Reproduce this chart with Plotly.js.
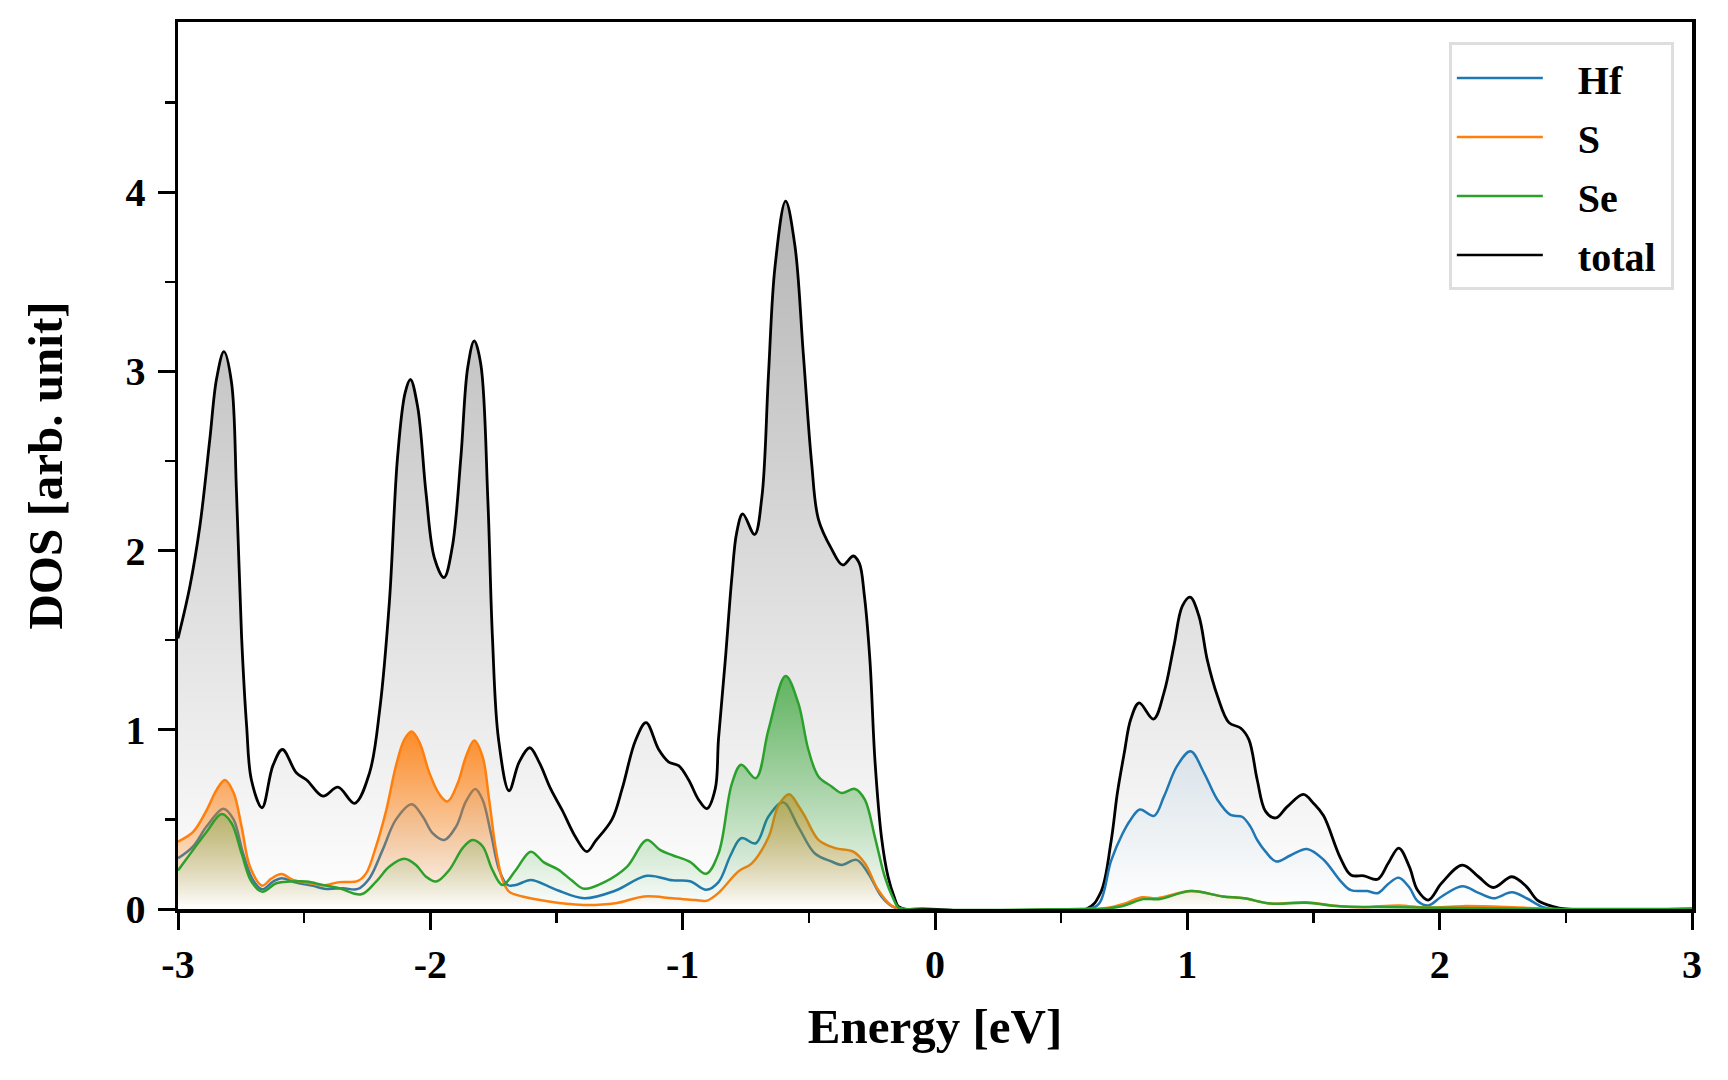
<!DOCTYPE html>
<html>
<head>
<meta charset="utf-8">
<script src="https://cdn.plot.ly/plotly-3.0.1.min.js"></script>
<style>
  html, body { margin: 0; padding: 0; background: #ffffff; }
  #chart { width: 1728px; height: 1080px; }
</style>
</head>
<body>
<div id="chart"></div>
<script>
// ---------------- data ----------------
const eTotal = [-3.00,-2.953,-2.913,-2.874,-2.847,-2.818,-2.788,-2.768,-2.748,-2.728,-2.709,-2.667,-2.624,-2.586,-2.531,-2.49,-2.426,-2.366,-2.30,-2.241,-2.20,-2.162,-2.13,-2.10,-2.079,-2.05,-2.017,-1.984,-1.946,-1.913,-1.879,-1.852,-1.826,-1.80,-1.772,-1.754,-1.73,-1.688,-1.648,-1.606,-1.569,-1.523,-1.477,-1.424,-1.38,-1.345,-1.28,-1.24,-1.187,-1.145,-1.095,-1.055,-1.016,-0.976,-0.937,-0.904,-0.871,-0.858,-0.831,-0.805,-0.786,-0.762,-0.715,-0.686,-0.66,-0.634,-0.592,-0.555,-0.522,-0.489,-0.462,-0.41,-0.366,-0.324,-0.30,-0.28,-0.258,-0.238,-0.212,-0.186,-0.16,-0.146,-0.12,-0.05,0.60,0.656,0.697,0.723,0.75,0.776,0.809,0.866,0.908,0.947,0.98,1.011,1.046,1.079,1.119,1.165,1.211,1.244,1.277,1.31,1.35,1.395,1.46,1.50,1.54,1.605,1.648,1.70,1.754,1.796,1.838,1.88,1.912,1.955,2.008,2.09,2.154,2.213,2.286,2.344,2.387,2.45,2.50,3.00];
const dosTotal = [1.51,1.80,2.14,2.62,2.96,3.11,2.94,2.32,1.52,1.02,0.72,0.565,0.80,0.89,0.76,0.72,0.63,0.68,0.59,0.76,1.12,1.72,2.52,2.88,2.955,2.80,2.32,1.96,1.85,2.02,2.52,3.02,3.17,3.04,2.28,1.52,0.95,0.66,0.82,0.90,0.82,0.67,0.55,0.40,0.32,0.38,0.50,0.67,0.94,1.04,0.89,0.82,0.80,0.72,0.61,0.56,0.67,0.95,1.39,1.85,2.10,2.205,2.09,2.30,2.98,3.585,3.95,3.70,3.10,2.49,2.175,2.01,1.92,1.97,1.93,1.75,1.39,0.83,0.40,0.18,0.06,0.015,0,0,0,0.09,0.37,0.65,0.87,1.06,1.15,1.06,1.21,1.47,1.69,1.74,1.635,1.39,1.19,1.04,1.01,0.945,0.72,0.545,0.508,0.57,0.64,0.59,0.52,0.29,0.19,0.185,0.166,0.255,0.34,0.235,0.106,0.05,0.145,0.245,0.18,0.12,0.18,0.125,0.05,0.013,0,0];

const eHf = [-3.00,-2.94,-2.887,-2.82,-2.78,-2.742,-2.703,-2.667,-2.623,-2.59,-2.531,-2.465,-2.412,-2.347,-2.287,-2.241,-2.189,-2.136,-2.074,-2.03,-1.991,-1.945,-1.898,-1.859,-1.822,-1.793,-1.76,-1.727,-1.694,-1.661,-1.602,-1.53,-1.493,-1.39,-1.266,-1.142,-1.04,-0.971,-0.907,-0.858,-0.81,-0.768,-0.71,-0.66,-0.601,-0.542,-0.476,-0.41,-0.37,-0.311,-0.265,-0.212,-0.17,-0.13,0.60,0.65,0.698,0.743,0.776,0.812,0.868,0.908,0.96,1.013,1.066,1.119,1.171,1.217,1.25,1.277,1.31,1.352,1.41,1.474,1.54,1.605,1.648,1.714,1.754,1.796,1.838,1.88,1.912,1.955,2.008,2.09,2.154,2.213,2.286,2.344,2.41,2.45,3.00];
const dosHf = [0.283,0.35,0.46,0.56,0.50,0.31,0.162,0.11,0.153,0.172,0.147,0.129,0.112,0.116,0.112,0.172,0.33,0.50,0.585,0.516,0.423,0.385,0.46,0.60,0.67,0.61,0.423,0.218,0.134,0.134,0.162,0.125,0.103,0.06,0.103,0.185,0.16,0.155,0.107,0.15,0.30,0.395,0.367,0.516,0.595,0.46,0.31,0.265,0.246,0.274,0.20,0.07,0.015,0,0,0.03,0.27,0.42,0.50,0.555,0.52,0.63,0.80,0.88,0.76,0.61,0.525,0.515,0.46,0.385,0.32,0.265,0.30,0.335,0.275,0.16,0.105,0.10,0.088,0.14,0.175,0.12,0.045,0.02,0.07,0.127,0.09,0.06,0.093,0.06,0.01,0,0];

const eS = [-3.00,-2.94,-2.887,-2.847,-2.814,-2.78,-2.748,-2.715,-2.667,-2.63,-2.59,-2.544,-2.478,-2.426,-2.36,-2.287,-2.254,-2.215,-2.175,-2.136,-2.103,-2.074,-2.043,-2.004,-1.964,-1.932,-1.892,-1.859,-1.826,-1.793,-1.767,-1.74,-1.714,-1.688,-1.635,-1.53,-1.45,-1.379,-1.266,-1.153,-1.04,-0.95,-0.903,-0.858,-0.779,-0.726,-0.66,-0.621,-0.578,-0.541,-0.515,-0.462,-0.396,-0.324,-0.278,-0.225,-0.173,-0.13,0.60,0.68,0.75,0.82,0.88,1.015,1.14,1.225,1.33,1.47,1.605,1.70,1.838,1.95,2.09,2.286,2.45,3.00];
const dosS = [0.376,0.43,0.55,0.665,0.72,0.65,0.46,0.237,0.13,0.17,0.195,0.162,0.144,0.133,0.15,0.157,0.20,0.35,0.55,0.80,0.945,0.99,0.93,0.76,0.64,0.60,0.70,0.85,0.94,0.85,0.61,0.33,0.163,0.097,0.07,0.042,0.028,0.022,0.032,0.07,0.06,0.05,0.047,0.09,0.21,0.255,0.40,0.575,0.64,0.575,0.516,0.386,0.34,0.32,0.255,0.106,0.02,0,0,0.005,0.03,0.065,0.06,0.10,0.07,0.06,0.03,0.038,0.015,0.01,0.02,0.008,0.016,0.01,0,0];

const eSe = [-3.00,-2.94,-2.887,-2.827,-2.788,-2.748,-2.709,-2.667,-2.61,-2.557,-2.49,-2.426,-2.36,-2.274,-2.215,-2.162,-2.103,-2.057,-2.017,-1.977,-1.925,-1.872,-1.833,-1.793,-1.754,-1.714,-1.661,-1.602,-1.55,-1.493,-1.44,-1.39,-1.31,-1.221,-1.142,-1.09,-1.04,-0.971,-0.907,-0.858,-0.805,-0.768,-0.71,-0.66,-0.592,-0.542,-0.502,-0.462,-0.41,-0.37,-0.317,-0.278,-0.238,-0.199,-0.166,-0.146,-0.12,0.60,0.656,0.74,0.825,0.887,1.015,1.14,1.225,1.33,1.47,1.605,1.838,2.09,2.45,3.00];
const dosSe = [0.215,0.33,0.43,0.53,0.48,0.31,0.153,0.097,0.144,0.153,0.153,0.134,0.116,0.082,0.153,0.237,0.28,0.246,0.18,0.153,0.218,0.34,0.385,0.35,0.218,0.134,0.218,0.32,0.26,0.22,0.16,0.113,0.15,0.235,0.385,0.33,0.30,0.263,0.197,0.31,0.70,0.805,0.73,1.0,1.30,1.15,0.89,0.74,0.684,0.647,0.67,0.61,0.40,0.18,0.06,0.01,0,0,0,0.015,0.055,0.055,0.10,0.07,0.06,0.03,0.035,0.015,0.01,0.005,0,0];

const seriesNames = ['Hf', 'S', 'Se', 'total'];
const xTickVals = [-3,-2,-1,0,1,2,3];
const xTickText = ['-3','-2','-1','0','1','2','3'];
const yTickVals = [0,1,2,3,4];
const yTickText = ['0','1','2','3','4'];

// ---------------- styling ----------------
const FONT = 'Liberation Serif, Times New Roman, serif';
const COLORS = {Hf: '#1f77b4', S: '#ff7f0e', Se: '#2ca02c', total: '#000000'};

function gradTrace(x, y, name, rgb, stop, aTop, lw) {
  return {
    x: x, y: y, name: name, type: 'scatter', mode: 'lines',
    line: {color: COLORS[name], width: lw, shape: 'spline', smoothing: 1},
    fill: 'tozeroy',
    fillgradient: {
      type: 'vertical', start: 0, stop: stop,
      colorscale: [[0, 'rgba(' + rgb + ',0)'], [1, 'rgba(' + rgb + ',' + aTop + ')']]
    },
    showlegend: false, hoverinfo: 'skip'
  };
}

// legend-only entries (plain line samples, no data drawn)
function legendTrace(name, rank) {
  return {
    x: [null], y: [null], type: 'scatter', mode: 'lines',
    name: '\u2002\u2005' + name + '\u2005',
    line: {color: COLORS[name], width: 2.5},
    legendrank: rank, legendgroup: name, showlegend: true, hoverinfo: 'skip'
  };
}

const traces = [
  gradTrace(eTotal, dosTotal, 'total', '0,0,0', 3.96, 0.29, 2.8),
  gradTrace(eHf, dosHf, 'Hf', '31,119,180', 0.88, 0.10, 2.5),
  gradTrace(eS, dosS, 'S', '255,127,14', 0.99, 0.88, 2.5),
  gradTrace(eSe, dosSe, 'Se', '44,160,44', 1.30, 0.72, 2.5)
].concat(seriesNames.map((n, i) => legendTrace(n, i + 1)));

const axisCommon = {
  showgrid: false, zeroline: false,
  showline: true, linecolor: '#000000', linewidth: 3.5, mirror: true,
  ticks: 'outside', ticklen: 17, tickwidth: 3, tickcolor: '#000000',
  tickmode: 'array',
  tickfont: {family: FONT, size: 40, color: '#000000', weight: 'bold'},
  minor: {dtick: 0.5, ticks: 'outside', ticklen: 10, tickwidth: 2.5, tickcolor: '#000000', showgrid: false}
};

const layout = {
  width: 1728, height: 1080,
  margin: {l: 178, r: 36, t: 22, b: 171, autoexpand: false},
  paper_bgcolor: '#ffffff', plot_bgcolor: '#ffffff',
  showlegend: true,
  xaxis: Object.assign({}, axisCommon, {
    range: [-3, 3], tickvals: xTickVals, ticktext: xTickText,
    title: {text: 'Energy [eV]', font: {family: FONT, size: 49, color: '#000000', weight: 'bold'}, standoff: 24}
  }),
  yaxis: Object.assign({}, axisCommon, {
    range: [0, 4.95], tickvals: yTickVals, ticktext: yTickText,
    ticklabelstandoff: 4,
    title: {text: 'DOS [arb. unit]', font: {family: FONT, size: 49, color: '#000000', weight: 'bold'}, standoff: 48}
  }),
  legend: {
    x: 0.988, y: 0.977, xanchor: 'right', yanchor: 'top',
    bgcolor: '#ffffff', bordercolor: '#dedede', borderwidth: 3,
    font: {family: FONT, size: 40, color: '#000000', weight: 'bold'},
    itemwidth: 86, tracegroupgap: 4
  }
};

Plotly.newPlot('chart', traces, layout, {displayModeBar: false, staticPlot: true});
</script>
</body>
</html>
